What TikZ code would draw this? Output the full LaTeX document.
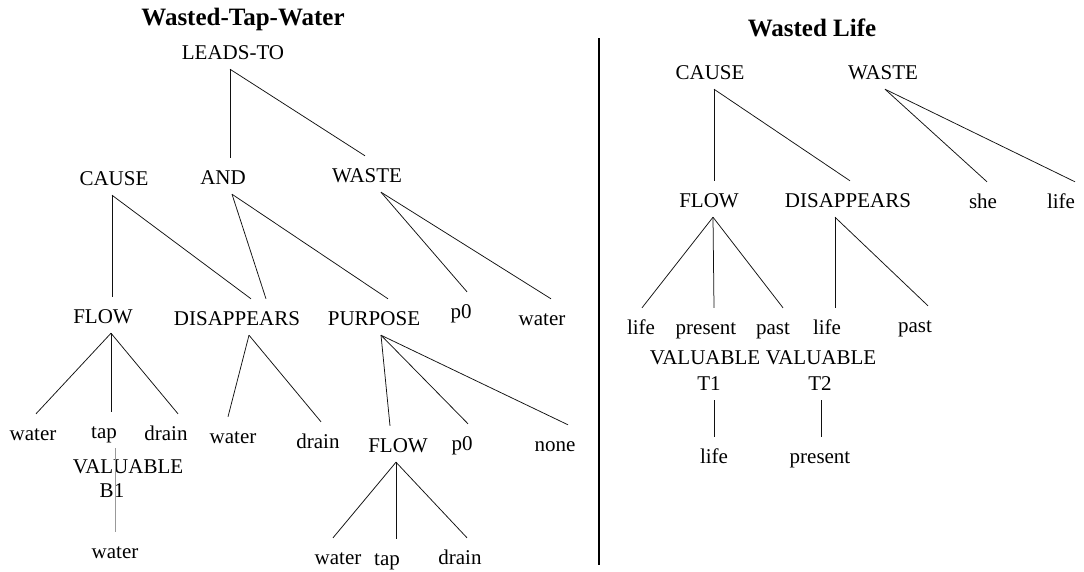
\documentclass[tikz,border=0pt]{standalone}
\usepackage{fontspec}
\setmainfont{Liberation Serif}
\usepackage{tikz}
\newcommand{\lblfont}{\fontsize{21}{24}\selectfont}
\newcommand{\ttlfont}{\fontsize{25}{28}\selectfont\bfseries}
\definecolor{treeline}{HTML}{111111}
\definecolor{faintline}{HTML}{999999}

\begin{document}
\begin{tikzpicture}[x=1pt,y=-1pt,
lbl/.style={font=\lblfont,anchor=base,inner xsep=1pt,inner ysep=2pt,text height=24pt,text depth=8pt},
ttl/.style={font=\ttlfont},
edge/.style={line width=.75pt,draw=treeline}]
\useasboundingbox (0,0) rectangle (1084,571);
% left tree
\node[ttl] (titleL) at (243,19) {Wasted-Tap-Water};
\node[lbl] (lead) at (233,59) {LEADS-TO};
\node[lbl] (cause) at (114,185) {CAUSE};
\node[lbl] (and) at (223,184) {AND};
\node[lbl] (waste) at (367,182) {WASTE};
\node[lbl] (flow) at (103,323) {FLOW};
\node[lbl] (dis) at (237,325) {DISAPPEARS};
\node[lbl] (purp) at (374,325) {PURPOSE};
\node[lbl] (pzeroA) at (461,318) {p0};
\node[lbl] (waterA) at (542,325) {water};
\node[lbl] (waterB) at (33,440) {water};
\node[lbl] (tap) at (104,438) {tap};
\node[lbl] (drainA) at (166,440) {drain};
\node[lbl] (waterC) at (233,443) {water};
\node[lbl] (drainB) at (318,448) {drain};
\node[lbl] (flowB) at (398,452) {FLOW};
\node[lbl] (pzeroB) at (462,450) {p0};
\node[lbl] (none) at (555,451) {none};
\node[lbl] (valB) at (128,473) {VALUABLE};
\node[lbl] (bone) at (112,497) {B1};
\node[lbl] (waterD) at (115,558) {water};
\node[lbl] (waterE) at (338,564) {water};
\node[lbl] (tapB) at (387,565) {tap};
\node[lbl] (drainC) at (460,564) {drain};
\draw[edge] ([xshift=-3pt]lead.south)--([xshift=7pt]and.north);
\draw[edge] ([xshift=-3pt]lead.south)--([xshift=-2pt]waste.north);
\draw[edge] ([xshift=-2pt]cause.south)--([xshift=9pt]flow.north);
\draw[edge] ([xshift=-2pt]cause.south)--([xshift=14pt]dis.north);
\draw[edge] ([xshift=9pt]and.south)--([xshift=29pt]dis.north);
\draw[edge] ([xshift=9pt]and.south)--([xshift=14pt]purp.north);
\draw[edge] ([xshift=14pt]waste.south)--([xshift=6pt]pzeroA.north);
\draw[edge] ([xshift=14pt]waste.south)--([xshift=9pt]waterA.north);
\draw[edge] ([xshift=8pt]flow.south)--([xshift=3pt]waterB.north);
\draw[edge] ([xshift=8pt]flow.south)--([xshift=7pt]tap.north);
\draw[edge] ([xshift=8pt]flow.south)--([xshift=12pt]drainA.north);
\draw[edge] ([xshift=12pt]dis.south)--([xshift=-5pt]waterC.north);
\draw[edge] ([xshift=12pt]dis.south)--([xshift=3pt]drainB.north);
\draw[edge] ([xshift=7pt]purp.south)--([xshift=-8pt]flowB.north);
\draw[edge] ([xshift=7pt]purp.south)--([xshift=6pt]pzeroB.north);
\draw[edge] ([xshift=7pt]purp.south)--([xshift=13pt]none.north);
\draw[edge,draw=faintline] ([xshift=11pt]tap.south)--(waterD.north);
\draw[edge] ([xshift=-2pt]flowB.south)--([xshift=-5pt]waterE.north);
\draw[edge] ([xshift=-2pt]flowB.south)--([xshift=9pt]tapB.north);
\draw[edge] ([xshift=-2pt]flowB.south)--([xshift=7pt]drainC.north);
% divider
\draw[line width=1.6pt] (599,38)--(599,565);
% right tree
\node[ttl] (titleR) at (812,28) {Wasted Life};
\node[lbl] (causeR) at (710,79) {CAUSE};
\node[lbl] (wasteR) at (883,79) {WASTE};
\node[lbl] (flowR) at (709,207) {FLOW};
\node[lbl] (disR) at (848,207) {DISAPPEARS};
\node[lbl] (she) at (983,208) {she};
\node[lbl] (lifeA) at (1061,208) {life};
\node[lbl] (lifeB) at (641,334) {life};
\node[lbl] (presA) at (706,334) {present};
\node[lbl] (pastA) at (773,334) {past};
\node[lbl] (lifeC) at (827,334) {life};
\node[lbl] (pastB) at (915,332) {past};
\node[lbl] (valR) at (705,364) {VALUABLE};
\node[lbl] (valS) at (821,364) {VALUABLE};
\node[lbl] (tone) at (709,390) {T1};
\node[lbl] (ttwo) at (820,390) {T2};
\node[lbl] (lifeD) at (714,463) {life};
\node[lbl] (presB) at (820,463) {present};
\draw[edge] ([xshift=4pt]causeR.south)--([xshift=5pt]flowR.north);
\draw[edge] ([xshift=4pt]causeR.south)--([xshift=2pt]disR.north);
\draw[edge] ([xshift=2pt]wasteR.south)--([xshift=4pt]she.north);
\draw[edge] ([xshift=2pt]wasteR.south)--([xshift=14pt]lifeA.north);
\draw[edge] ([xshift=4pt]flowR.south)--([xshift=1pt]lifeB.north);
\draw[edge] ([xshift=4pt]flowR.south)--([xshift=8pt]presA.north);
\draw[edge] ([xshift=4pt]flowR.south)--([xshift=10pt]pastA.north);
\draw[edge] ([xshift=-13pt]disR.south)--([xshift=8pt]lifeC.north);
\draw[edge] ([xshift=-13pt]disR.south)--([xshift=13pt]pastB.north);
\draw[edge] ([xshift=5pt]tone.south)--(lifeD.north);
\draw[edge] ([xshift=1pt]ttwo.south)--([xshift=1pt]presB.north);
\end{tikzpicture}
\end{document}
